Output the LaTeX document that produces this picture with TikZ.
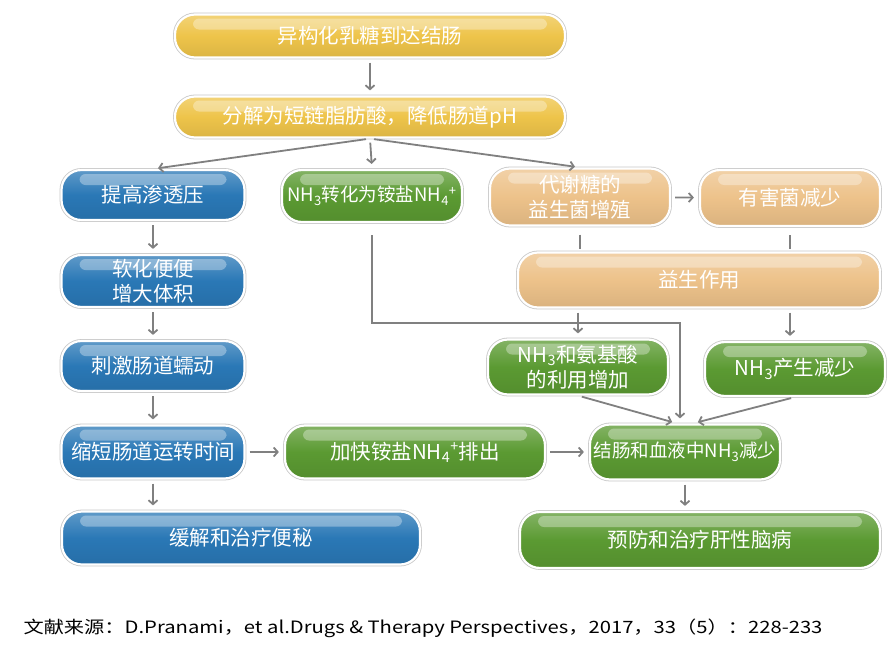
\documentclass[tikz,border=0pt]{standalone}
\usepackage{fontspec}
\setmainfont{Noto Sans CJK SC}
\usetikzlibrary{arrows.meta}
\definecolor{goldc}{HTML}{EEC44A}
\definecolor{bluec}{HTML}{2A78B6}
\definecolor{greenc}{HTML}{5B9A32}
\definecolor{tanc}{HTML}{EDC28A}
\definecolor{edgec}{HTML}{808080}
\begin{document}
\begin{tikzpicture}[x=1pt,y=-1pt]
			\tikzstyle{pill} = [draw=white, line width=2.2pt, rounded corners=20pt, preaction={draw=black!22, line width=3.8pt}, text=white, align=center, inner sep=0pt, font=\fontsize{20.5}{25}\selectfont]
			\tikzstyle{tight} = [font=\fontsize{18.5}{25}\selectfont]
			\tikzset{gloss/.style = {top color=#1!75!white, bottom color=#1!92!black, middle color=#1,
				path picture={\fill[white, opacity=0.33, rounded corners=6pt] ([xshift=18pt,yshift=-4pt]path picture bounding box.north west) rectangle ([xshift=-18pt,yshift=-15pt]path picture bounding box.north east);}}}
			\tikzstyle{edge} = [draw=edgec, line width=1.8pt, -{Straight Barb[length=4pt,width=9pt]}, shorten <=4pt, shorten >=5pt]
			\tikzstyle{link} = [draw=edgec, line width=1.8pt, shorten <=8pt, shorten >=2pt]
			\useasboundingbox[fill=white] (0,0) rectangle (895,651);
			
			\node[pill, gloss=goldc, minimum width=390pt, minimum height=43pt](arrive) at (370,36) {异构化乳糖到达结肠};
			\node[pill, gloss=goldc, minimum width=390pt, minimum height=41pt](split) at (370,117) {分解为短链脂肪酸，降低肠道pH};
			\draw[edge](arrive) to (split);
			
			\node[pill, gloss=bluec, minimum width=183pt, minimum height=50pt](osmo) at (153,195) {提高渗透压};
			\node[pill, tight, gloss=greenc, minimum width=180pt, minimum height=52pt](salt) at (372,196) {NH\textsubscript{3}转化为铵盐NH\textsubscript{4}\textsuperscript{+}};
			\node[pill, gloss=tanc, minimum width=180pt, minimum height=57pt](grow) at (580,197) {代谢糖的\\益生菌增殖};
			\node[pill, gloss=tanc, minimum width=180pt, minimum height=56pt](harm) at (790,198) {有害菌减少};
			\draw[edge](split.south) to (osmo.north);
			\draw[edge](split.south) to (salt.north);
			\draw[edge](split.south) to (grow.north);
			\draw[edge](grow) to (harm);
			
			\node[pill, gloss=bluec, minimum width=183pt, minimum height=52pt](soft) at (153,281) {软化便便\\增大体积};
			\node[pill, gloss=tanc, minimum width=362pt, minimum height=55pt](probio) at (699,280) {益生作用};
			\draw[edge](osmo) to (soft);
			\draw[link](grow.south) to (grow.south |- probio.north);
			\draw[link](harm.south) to (harm.south |- probio.north);
			
			\node[pill, gloss=bluec, minimum width=183pt, minimum height=50pt](peri) at (153,366) {刺激肠道蠕动};
			\node[pill, gloss=greenc, minimum width=180pt, minimum height=55pt](use) at (578,367) {NH\textsubscript{3}和氨基酸\\的利用增加};
			\node[pill, gloss=greenc, minimum width=180pt, minimum height=54pt](less) at (795,369) {NH\textsubscript{3}产生减少};
			\draw[edge](soft) to (peri);
			\draw[edge](probio.south -| use) to (use.north);
			\draw[edge](probio.south -| harm) to (harm |- less.north);
			
			\node[pill, gloss=bluec, minimum width=183pt, minimum height=53pt](transit) at (153,452) {缩短肠道运转时间};
			\node[pill, gloss=greenc, minimum width=260pt, minimum height=53pt](excrete) at (415,452) {加快铵盐NH\textsubscript{4}\textsuperscript{+}排出};
			\node[pill, tight, gloss=greenc, minimum width=190pt, minimum height=55pt](drop) at (685,452) {结肠和血液中NH\textsubscript{3}减少};
			\coordinate (bend) at (680,323);
			\draw[edge](peri) to (transit);
			\draw[edge](transit) to (excrete);
			\draw[edge](excrete) to (drop);
			\draw[edge, shorten <=12pt](salt.south) |- (bend) to (bend |- drop.north);
			\draw[edge](use.south) to ([xshift=-8pt]drop.north);
			\draw[edge](less.south) to ([xshift=8pt]drop.north);
			
			\node[pill, gloss=bluec, minimum width=358pt, minimum height=53pt](relief) at (241,538) {缓解和治疗便秘};
			\node[pill, gloss=greenc, minimum width=360pt, minimum height=56pt](hepat) at (700,540) {预防和治疗肝性脑病};
			\draw[edge](transit.south) to (transit.south |- relief.north);
			\draw[edge](drop.south) to (drop.south |- hepat.north);
			
			\node[anchor=west, font=\fontsize{17}{20}\selectfont](source) at (20,628) {\scalebox{1.19}[1]{文献来源：D.Pranami，et al.Drugs \& Therapy Perspectives，2017，33（5）：228-233}};
\end{tikzpicture}
\end{document}
